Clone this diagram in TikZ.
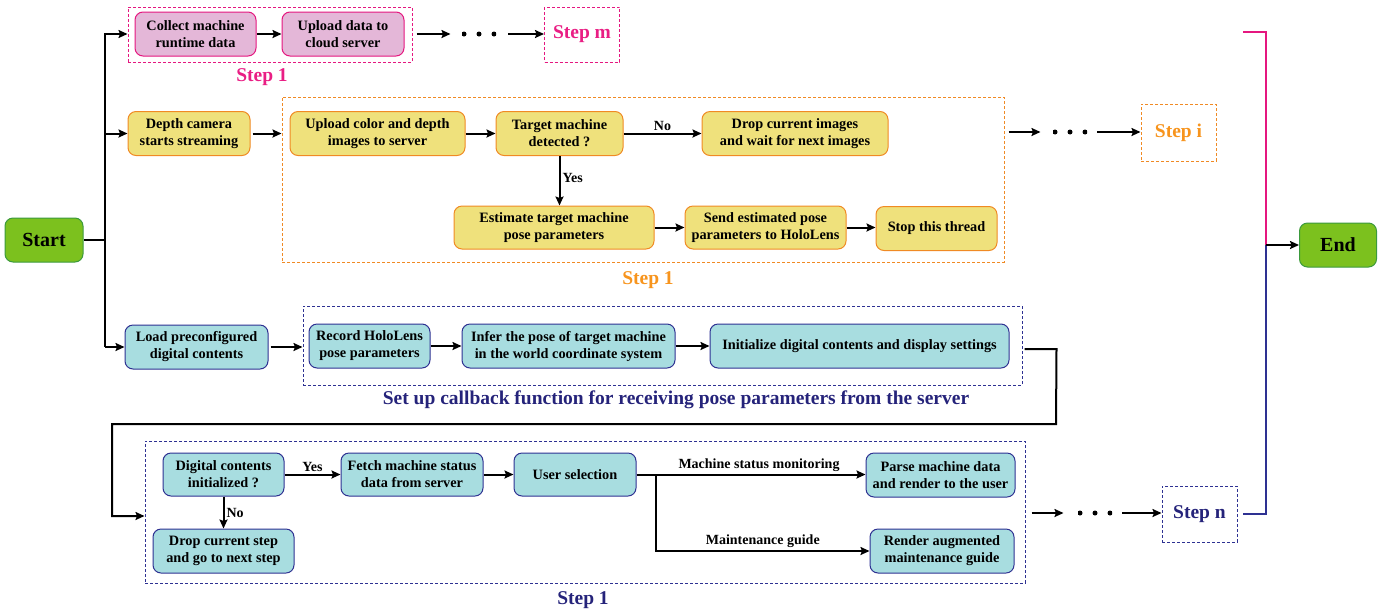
\documentclass[tikz,border=0pt]{standalone}
\usepackage{fontspec}
\setmainfont{Liberation Serif}
\usetikzlibrary{arrows.meta}
\definecolor{pinkfill}{HTML}{E4B7D8}
\definecolor{pinkline}{HTML}{E5177F}
\definecolor{pinktext}{HTML}{E91E84}
\definecolor{yelfill}{HTML}{EFE17C}
\definecolor{orline}{HTML}{F08A24}
\definecolor{ortext}{HTML}{F7941D}
\definecolor{bluefill}{HTML}{A8DDE0}
\definecolor{blueline}{HTML}{2E3192}
\definecolor{navytext}{HTML}{25237A}
\definecolor{grfill}{HTML}{7CC11E}
\definecolor{grline}{HTML}{3B9A3C}
\tikzset{
  box/.style={rounded corners=8pt, draw, line width=1pt, align=center,
    font=\bfseries\fontsize{14.3}{17}\selectfont, inner sep=1pt, minimum height=44pt},
  pinkbox/.style={box, fill=pinkfill, draw=pinkline},
  yelbox/.style={box, fill=yelfill, draw=orline},
  bluebox/.style={box, fill=bluefill, draw=blueline},
  termbox/.style={box, fill=grfill, draw=grline, font=\bfseries\fontsize{20}{22}\selectfont},
  grp/.style={draw, dash pattern=on 3pt off 2pt, line width=1pt, inner sep=0pt},
  stepbox/.style={grp, font=\bfseries\fontsize{19.5}{21}\selectfont, minimum width=75pt},
  steplabel/.style={font=\bfseries\fontsize{19.5}{21}\selectfont},
  dots/.style={minimum width=34pt, minimum height=6pt, inner sep=0pt,
    path picture={\fill (path picture bounding box.center) circle (2.5pt)
      ++(-15pt,0pt) circle (2.5pt) ++(30pt,0pt) circle (2.5pt);}},
  arr/.style={line width=2pt, -{Stealth[length=9pt,width=8pt,inset=1.5pt]}},
  conn/.style={line width=2pt},
  lbl/.style={font=\bfseries\fontsize{14}{16}\selectfont, inner sep=2pt}
}
\begin{document}
\begin{tikzpicture}[x=1pt,y=-1pt]
\useasboundingbox (0,0) rectangle (1391,614);
% terminals
\node[termbox, minimum width=78pt] (start) at (44,240) {Start};
\node[termbox, minimum width=77pt] (end) at (1338,245) {End};

% ---------- row 1 (pink)
\node[grp, draw=pinkline, minimum width=284pt, minimum height=55pt] (pg) at (270,34.5) {};
\node[pinkbox, minimum width=121pt] (collect) at (195.5,34) {Collect machine\\runtime data};
\node[pinkbox, minimum width=122pt] (upcloud) at (343,34) {Upload data to\\cloud server};
\node[steplabel, text=pinktext] (pl) at (262,77) {Step 1};
\node[dots] (d1) at (479,34) {};
\node[stepbox, draw=pinkline, text=pinktext, minimum height=55pt] (stepm) at (582,34.5) {Step m};
\draw[arr] (collect) -- (upcloud);
\draw[arr] (pg.east |- d1) ++(4,0) -- ++(34,0);
\draw[arr] (d1.east) ++(12,0) -- (d1 -| stepm.west);

% ---------- row 2 (yellow)
\node[grp, draw=orline, minimum width=722pt, minimum height=165pt] (og) at (643,179.5) {};
\node[yelbox, minimum width=122pt] (depth) at (189,133.5) {Depth camera\\starts streaming};
\node[yelbox, minimum width=175pt] (upcd) at (377.5,133.5) {Upload color and depth\\images to server};
\node[yelbox, minimum width=127pt] (target) at (559.5,133.5) {Target machine\\detected ?};
\node[yelbox, minimum width=186pt] (dropimg) at (795,133.5) {Drop current images\\and wait for next images};
\node[yelbox, minimum width=200pt, minimum height=43pt] (estimate) at (554,227.5) {Estimate target machine\\pose parameters};
\node[yelbox, minimum width=161pt, minimum height=43pt] (send) at (765.5,227.5) {Send estimated pose\\parameters to HoloLens};
\node[yelbox, minimum width=121pt] (stopt) at (936.5,228.5) {Stop this thread};
\node[steplabel, text=ortext] (ol) at (648,280) {Step 1};
\node[dots] (d2) at (1070,132) {};
\node[stepbox, draw=orline, text=ortext, minimum height=57pt] (stepi) at (1178.5,132.5) {Step i};
\draw[arr] (depth.east) ++(2,0) -- (depth.east -| og.west);
\draw[arr] (upcd) -- (target);
\draw[arr] (target) -- node[lbl, above, pos=0.5] {No} (dropimg);
\draw[arr] (target.south) -- node[lbl, right, pos=0.45] {Yes} (target.south |- estimate.north);
\draw[arr] (estimate) -- (send);
\draw[arr] (send.east) -- (send.east -| stopt.west);
\draw[arr] (og.east |- d2) ++(4,0) -- ++(32,0);
\draw[arr] (d2.east) ++(10,0) -- (d2 -| stepi.west);

% ---------- row 3 (blue)
\node[grp, draw=blueline, minimum width=719pt, minimum height=79pt] (bg1) at (662.5,345.5) {};
\node[bluebox, minimum width=143pt] (load) at (196.5,347) {Load preconfigured\\digital contents};
\node[bluebox, minimum width=121pt] (record) at (369.5,346) {Record HoloLens\\pose parameters};
\node[bluebox, minimum width=213pt] (infer) at (568.5,346) {Infer the pose of target machine\\in the world coordinate system};
\node[bluebox, minimum width=299pt] (init) at (859.5,346) {Initialize digital contents and display settings};
\node[steplabel, text=navytext] (bl1) at (676,400) {Set up callback function for receiving pose parameters from the server};
\draw[arr] (load.east) ++(2,0) -- (load.east -| bg1.west);
\draw[arr] (record) -- (infer);
\draw[arr] (infer) -- (init);

% ---------- row 4 (blue)
\node[grp, draw=blueline, minimum width=880pt, minimum height=142pt] (bg2) at (585,512) {};
\node[bluebox, minimum width=121pt, minimum height=43pt] (digital) at (223.5,474.5) {Digital contents\\initialized ?};
\node[bluebox, minimum width=142pt, minimum height=43pt] (fetch) at (412,474.5) {Fetch machine status\\data from server};
\node[bluebox, minimum width=122pt, minimum height=43pt] (user) at (575,474.5) {User selection};
\node[bluebox, minimum width=149pt] (parse) at (940.5,475) {Parse machine data\\and render to the user};
\node[bluebox, minimum width=144pt] (render) at (942,551) {Render augmented\\maintenance guide};
\node[bluebox, minimum width=141pt] (dropstep) at (223.5,551) {Drop current step\\and go to next step};
\node[steplabel, text=navytext] (bl2) at (583,600) {Step 1};
\node[dots] (d3) at (1095,513) {};
\node[stepbox, draw=blueline, text=navytext, minimum height=56pt] (stepn) at (1199.5,514) {Step n};
\coordinate (br) at (656,474.5);
\draw[arr] (digital) -- node[lbl, above] {Yes} (fetch);
\draw[arr] (digital) -- node[lbl, right] {No} (dropstep);
\draw[arr] (fetch) -- (user);
\draw[arr] (user.east) -- node[lbl, above, pos=0.535] {Machine status monitoring} (user.east -| parse.west);
\draw[arr] (br) |- node[lbl, above, pos=0.75] {Maintenance guide} (render.west);
\draw[arr] (bg2.east |- d3) ++(6,0) -- ++(32,0);
\draw[arr] (d3.east) ++(10,0) -- (d3 -| stepn.west);

% ---------- connector from row 3 to row 4
\draw[arr] (bg1.east |- init.east) ++(2,3) -- ++(32,0) -- (1056,424) -- (112,424) -- (112,516) -- (bg2.west |- 0,516);

% ---------- start distribution
\coordinate (sj) at (105,240);
\draw[conn] (start.east) -- (sj);
\draw[conn] (105,33) -- (105,347);
\draw[arr] (105,34) -- (pg.west |- 0,34);
\draw[arr] (105,133.5) -- (depth.west);
\draw[arr] (105,347) -- (load.west);

% ---------- end merge
\coordinate (mj) at (1266,245);
\coordinate (pinkstart) at (1243,32);
\coordinate (navystart) at (1243,514);
\draw[line width=2pt, draw=pinkline] (pinkstart) -- (1266,32) -- (mj);
\draw[line width=2pt, draw=blueline] (navystart) -- (1266,514) -- (mj);
\draw[arr] (mj) -- (end.west);
\end{tikzpicture}
\end{document}
